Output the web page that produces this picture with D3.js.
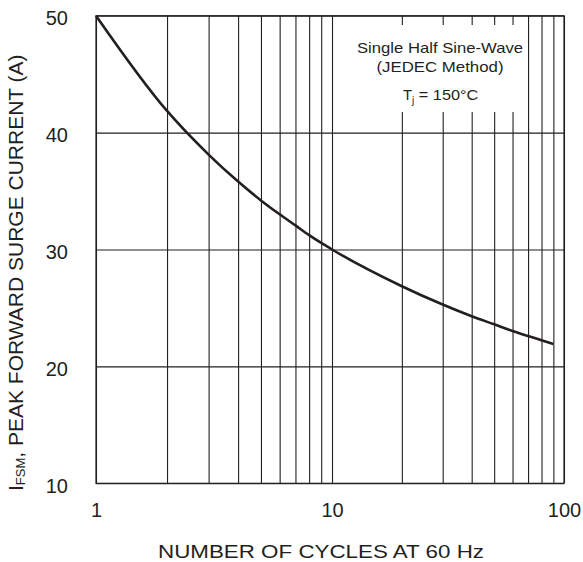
<!DOCTYPE html>
<html>
<head>
<meta charset="utf-8">
<script src="https://cdn.jsdelivr.net/npm/d3@7"></script>
<style>
  body { margin: 0; background: #fff; }
  svg { display: block; }
  svg text { font-family: "Liberation Sans", Arial, sans-serif; fill: #231f20; }
</style>
</head>
<body>
<div id="chart"></div>
<script>
// Surge current vs number of cycles
const cycles = [1, 2, 3, 4, 5, 6, 7, 8, 9, 10, 20, 30, 40, 50, 60, 70, 80, 90];
const current = [50, 41.85, 38.12, 35.81, 34.2, 33.01, 32.06, 31.23, 30.56, 30.0, 26.86, 25.29, 24.29, 23.6, 23.03, 22.6, 22.24, 21.92];

const xGridValues = [1, 2, 3, 4, 5, 6, 7, 8, 9, 10, 20, 30, 40, 50, 60, 70, 80, 90, 100];
const xTickLabels = [1, 10, 100];
const yTickLabels = [10, 20, 30, 40, 50];

const noteLines = ["Single Half Sine-Wave", "(JEDEC Method)"];

const W = 583, H = 562;
const margin = { top: 15.7, right: 19, bottom: 78.7, left: 96 };
const width = W - margin.left - margin.right;
const height = H - margin.top - margin.bottom;

const svg = d3.select("#chart")
  .append("svg")
  .attr("width", W)
  .attr("height", H)
  .append("g")
  .attr("transform", `translate(${margin.left}, ${margin.top})`);

// Scales
const x = d3.scaleLog()
  .domain([1, 10, 100])
  .range([0, width * 0.5043, width]);

const y = d3.scaleLinear()
  .domain([10, 50])
  .range([height, 0]);

// Grid lines
svg.append("g")
  .attr("class", "grid")
  .attr("transform", `translate(0, ${height})`)
  .call(d3.axisBottom(x).tickValues(xGridValues).tickSize(-height).tickFormat(""))
  .call(g => g.select(".domain").remove());

svg.append("g")
  .attr("class", "grid")
  .call(d3.axisLeft(y).tickValues(yTickLabels).tickSize(-width).tickFormat(""))
  .call(g => g.select(".domain").remove());

svg.selectAll(".grid line")
  .attr("stroke", "#231f20")
  .attr("stroke-width", 1.1);

// Note box (white patch over grid)
svg.append("rect")
  .attr("x", 355 - margin.left)
  .attr("y", 25 - margin.top)
  .attr("width", 170)
  .attr("height", 87)
  .attr("fill", "#fff");

const noteWidths = [166, 127];
svg.selectAll(".note")
  .data(noteLines)
  .enter()
  .append("text")
  .attr("class", "note")
  .attr("x", (d, i) => 440 - margin.left - noteWidths[i] / 2)
  .attr("y", (d, i) => 53 - margin.top + i * 19.5)
  .attr("textLength", (d, i) => noteWidths[i])
  .attr("lengthAdjust", "spacingAndGlyphs")
  .style("font-size", "14.8px")
  .text(d => d);

const tj = svg.append("text")
  .attr("x", 403 - margin.left)
  .attr("y", 100 - margin.top)
  .style("font-size", "14.8px");
tj.append("tspan").text("T");
tj.append("tspan").attr("dy", 4).style("font-size", "10px").text("j");
tj.append("tspan").attr("dy", -4)
  .attr("textLength", 64)
  .attr("lengthAdjust", "spacingAndGlyphs")
  .text(" = 150°C");

// Curve
const line = d3.line()
  .x(d => x(d[0]))
  .y(d => y(d[1]))
  .curve(d3.curveMonotoneX);

svg.append("path")
  .datum(cycles.map((c, i) => [c, current[i]]))
  .attr("fill", "none")
  .attr("stroke", "#231f20")
  .attr("stroke-width", 2.6)
  .attr("d", line);

// Frame
svg.append("rect")
  .attr("width", width)
  .attr("height", height)
  .attr("fill", "none")
  .attr("stroke", "#231f20")
  .attr("stroke-width", 1.2);

// Axes labels
svg.append("g")
  .attr("transform", `translate(0, ${height})`)
  .call(d3.axisBottom(x).tickValues(xTickLabels).tickSize(0).tickPadding(20).tickFormat(d3.format("d")))
  .call(g => g.select(".domain").remove())
  .selectAll("text")
  .style("font-size", "20px")
  .attr("fill", "#231f20");

svg.append("g")
  .call(d3.axisLeft(y).tickValues(yTickLabels).tickSize(0).tickPadding(28))
  .call(g => g.select(".domain").remove())
  .selectAll("text")
  .style("font-size", "20px")
  .attr("dy", "0.45em")
  .attr("fill", "#231f20");

// Axis titles
svg.append("text")
  .attr("x", 158 - margin.left)
  .attr("y", 558 - margin.top)
  .attr("textLength", 326)
  .attr("lengthAdjust", "spacingAndGlyphs")
  .style("font-size", "18.5px")
  .text("NUMBER OF CYCLES AT 60 Hz");

const yTitle = svg.append("text")
  .attr("transform", "rotate(-90)")
  .attr("x", -(491 - margin.top))
  .attr("y", 23 - margin.left)
  .style("font-size", "21px");
yTitle.append("tspan").text("I");
yTitle.append("tspan").attr("dy", 2).style("font-size", "13px").text("FSM");
yTitle.append("tspan").attr("dy", -2).text(", PEAK FORWARD SURGE CURRENT (A)");
</script>
</body>
</html>
